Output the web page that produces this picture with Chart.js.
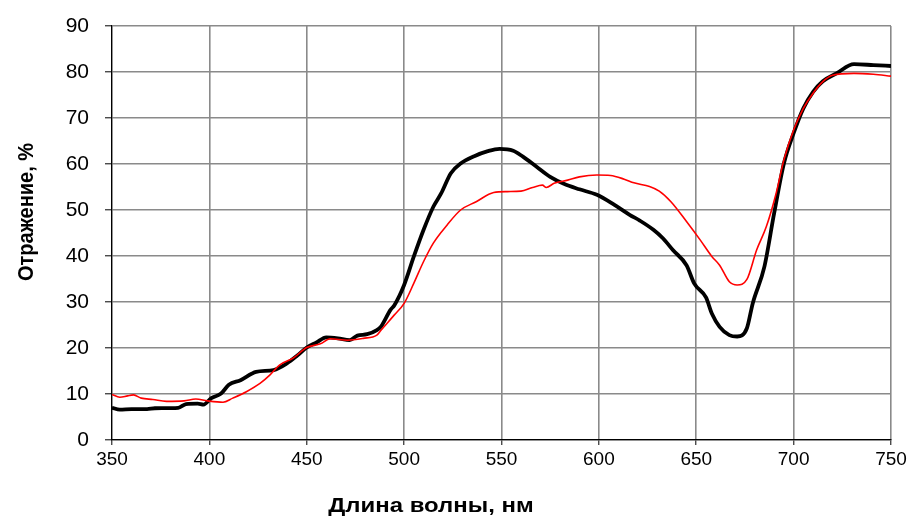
<!DOCTYPE html>
<html>
<head>
<meta charset="utf-8">
<script src="https://cdn.jsdelivr.net/npm/chart.js@4"></script>
<style>
  html, body { margin: 0; padding: 0; background: #fff; }
  #wrap { width: 910px; height: 516px; position: relative; }
</style>
</head>
<body>
<div id="wrap"><canvas id="c"></canvas></div>
<script>
// Wavelength (nm) and reflectance (%) for the black series
const blackWl = [350,354,360,368,372,384,388,394,397,401,406,410,416,424,433,440,445,450,455,460,466,472,476,481,486,488,493,495,500,505,510,515,519,524,529,536,543,549,556,561,568,575,582,590,599,608,616,621,628,633,638,645,649,655,658,662,667,671,676,679,685,690,695,700,705,710,715,722,731,741,750];
const blackR  = [7.0,6.6,6.7,6.7,6.9,7.0,7.8,7.9,7.7,9.1,10.1,12.0,13.0,14.8,15.2,16.7,18.3,20.1,21.2,22.3,22.1,21.7,22.7,23.0,23.9,24.6,28.3,29.3,33.7,39.9,45.7,50.7,53.6,58.0,60.1,61.7,62.8,63.3,62.9,61.6,59.4,57.2,55.7,54.5,53.3,51.1,48.9,47.7,45.7,43.8,41.3,38.0,34.0,31.0,27.5,24.6,22.8,22.5,24.3,29.7,37.7,49.3,60.1,66.7,72.1,75.7,78.0,79.7,81.7,81.5,81.3];
// Wavelength (nm) and reflectance (%) for the red series
const redWl = [350,354,358,361,365,371,378,387,393,399,407,412,419,426,431,436,443,450,457,462,471,479,486,488,495,500,505,510,515,522,529,537,546,553,560,566,571,573,577,584,590,599,606,613,618,626,631,637,645,652,658,662,667,671,676,681,686,691,695,700,705,710,715,720,731,741,750];
const redR  = [9.9,9.3,9.6,9.8,9.1,8.8,8.4,8.5,8.9,8.5,8.2,9.1,10.5,12.3,14.1,16.3,17.8,20.1,20.9,22.0,21.7,22.1,22.8,23.8,27.2,29.7,34.1,38.8,42.8,46.7,50.0,51.8,53.8,54.0,54.1,54.9,55.4,54.9,55.8,56.5,57.2,57.6,57.5,56.7,55.9,55.1,54.1,51.8,47.5,43.5,39.9,38.0,34.4,33.7,34.9,41.3,46.4,53.6,60.9,67.4,72.1,75.4,77.9,79.3,79.7,79.5,79.1];
// Axis tick values and titles
const xTicks = [350,400,450,500,550,600,650,700,750];
const yTicks = [0,10,20,30,40,50,60,70,80,90];
const xTitle = 'Длина волны, нм';
const yTitle = 'Отражение, %';

const FONT = "'Liberation Sans', Arial, sans-serif";

const toPts = (xs, ys) => xs.map((x, i) => ({x: x, y: ys[i]}));

const axisTitles = {
  id: 'axisTitles',
  afterDraw(chart) {
    const ctx = chart.ctx;
    ctx.save();
    ctx.fillStyle = '#000';
    ctx.textAlign = 'center';
    ctx.textBaseline = 'middle';
    ctx.save();
    ctx.font = "bold 21px " + FONT;
    ctx.translate(431, 506);
    ctx.scale(1.14, 1);
    ctx.fillText(xTitle, 0, 0);
    ctx.restore();
    ctx.font = "bold 20px " + FONT;
    ctx.translate(27, 212);
    ctx.rotate(-Math.PI / 2);
    ctx.scale(1, 1.08);
    ctx.fillText(yTitle, 0, 0);
    ctx.restore();
  }
};

new Chart(document.getElementById('c'), {
  type: 'line',
  data: {
    datasets: [
      {
        label: 'red',
        data: toPts(redWl, redR),
        borderColor: '#ff0000',
        borderWidth: 1.6,
        pointRadius: 0,
        cubicInterpolationMode: 'monotone',
        fill: false
      },
      {
        label: 'black',
        data: toPts(blackWl, blackR),
        borderColor: '#000000',
        borderWidth: 3.8,
        pointRadius: 0,
        cubicInterpolationMode: 'monotone',
        fill: false
      }
    ]
  },
  options: {
    responsive: true,
    maintainAspectRatio: false,
    animation: false,
    layout: { padding: { top: 26, right: 19, left: 0, bottom: 0 } },
    plugins: {
      legend: { display: false },
      tooltip: { enabled: false }
    },
    scales: {
      x: {
        type: 'linear',
        min: 350,
        max: 750,
        afterBuildTicks: (s) => { s.ticks = xTicks.map(v => ({value: v})); },
        afterFit: (s) => { s.height = 76; s.paddingLeft = 0; s.paddingRight = 0; },
        ticks: {
          color: '#000',
          font: { family: FONT, size: 19 },
          padding: 3,
          maxRotation: 0,
          autoSkip: false
        },
        grid: {
          color: '#8a8a8a',
          lineWidth: 1.6,
          tickColor: '#000',
          tickLength: 5,
          tickWidth: 1
        },
        border: { color: '#000', width: 1.2 }
      },
      y: {
        min: 0,
        max: 90,
        afterBuildTicks: (s) => { s.ticks = yTicks.map(v => ({value: v})); },
        afterFit: (s) => { s.width = 112; s.paddingTop = 0; s.paddingBottom = 0; },
        ticks: {
          color: '#000',
          font: { family: FONT, size: 21 },
          padding: 16
        },
        grid: {
          color: '#8a8a8a',
          lineWidth: 1.6,
          tickColor: '#000',
          tickLength: 7,
          tickWidth: 1
        },
        border: { color: '#000', width: 1.2 }
      }
    }
  },
  plugins: [axisTitles]
});
</script>
</body>
</html>
